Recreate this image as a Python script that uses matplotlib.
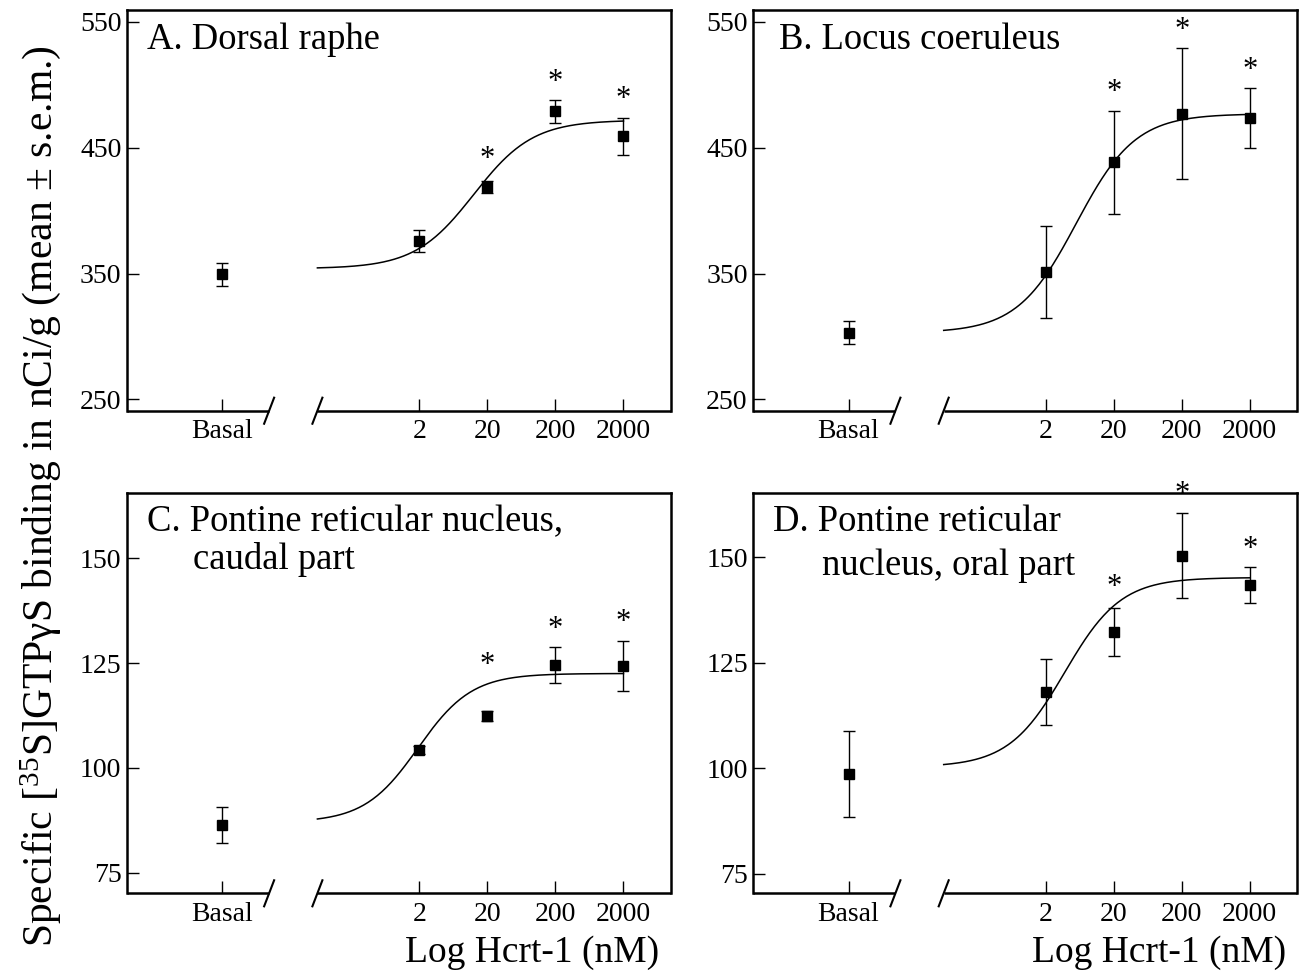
import numpy as np
import matplotlib
matplotlib.use("Agg")
import matplotlib.pyplot as plt

plt.rcParams["font.family"] = ["Liberation Serif", "DejaVu Serif"]
plt.rcParams["mathtext.fontset"] = "custom"
plt.rcParams["mathtext.rm"] = "Liberation Serif"
plt.rcParams["mathtext.it"] = "Liberation Serif:italic"

# concentrations of Hcrt-1 (nM)
conc = [2, 20, 200, 2000]
tick_labels = ["Basal", "2", "20", "200", "2000"]

titles = [["A. Dorsal raphe"],
          ["B. Locus coeruleus"],
          ["C. Pontine reticular nucleus,", "caudal part"],
          ["D. Pontine reticular", "nucleus, oral part"]]

basal_mean = [349.5, 303, 86.4, 98.6]
basal_sem = [9, 9, 4.2, 10.2]

a_mean = [376, 419, 479, 459]
a_sem = [9, 5, 9, 15]
b_mean = [351.5, 438.5, 477, 473.5]
b_sem = [36.6, 41, 52, 24]
c_mean = [104.2, 112.3, 124.5, 124.3]
c_sem = [1.0, 1.2, 4.3, 6.0]
d_mean = [118, 132.3, 150.4, 143.4]
d_sem = [7.8, 5.7, 10.1, 4.3]
star = [False, True, True, True]

# sigmoid fit: bottom, top, log EC50, hill slope
fits = [(354, 472, 1.1, 1.0),
        (303, 477, 0.75, 1.0),
        (87, 122.5, 0.28, 1.1),
        (100.3, 145.2, 0.58, 1.05)]

means = [a_mean, b_mean, c_mean, d_mean]
sems = [a_sem, b_sem, c_sem, d_sem]

ylims = [(241.1, 559.5), (241.1, 559.5), (70.1, 165.6), (70.4, 165.3)]
yticks = [[250, 350, 450, 550], [250, 350, 450, 550],
          [75, 100, 125, 150], [75, 100, 125, 150]]

basal_x = -2.6
brk1, brk2 = -1.91, -1.2

fig = plt.figure(figsize=(13, 9.73), dpi=100)
W, H = 1300, 973
boxes = [(127, 10, 544, 400.7), (753.3, 10, 544, 400.7),
         (127, 492.7, 544, 400.6), (753.3, 492.7, 544, 400.6)]

for i in range(4):
    l, t, w, h = boxes[i]
    ax = fig.add_axes([l / W, 1 - (t + h) / H, w / W, h / H])
    lx = np.log10(conc)

    bot, top, ec50, hill = fits[i]
    xs = np.linspace(brk2, lx[-1], 200)
    ax.plot(xs, bot + (top - bot) / (1 + 10 ** (hill * (ec50 - xs))), color="black", lw=1.1)

    ax.errorbar([basal_x], [basal_mean[i]], yerr=[basal_sem[i]], fmt="s", color="black",
                ms=7.5, capsize=4.3, elinewidth=1.0, capthick=1.0)
    ax.errorbar(lx, means[i], yerr=sems[i], fmt="s", color="black",
                ms=7.5, capsize=4.3, elinewidth=1.0, capthick=1.0)

    # asterisks above the error bars (or the curve, if higher)
    for k in range(len(conc)):
        if star[k]:
            fitv = bot + (top - bot) / (1 + 10 ** (hill * (ec50 - lx[k])))
            ytop = max(means[i][k] + sems[i][k], fitv)
            ax.annotate("*", xy=(lx[k], ytop), xytext=(0, 2.5), textcoords="offset points",
                        ha="center", va="bottom", fontsize=22)

    ax.set_xlim(-4, 4)
    ax.set_ylim(*ylims[i])
    ax.set_yticks(yticks[i])
    ax.set_xticks([basal_x] + list(lx))
    ax.set_xticklabels(tick_labels)
    ax.tick_params(direction="in", length=8.6, width=1.0, labelsize=20)
    ax.tick_params(axis="y", pad=4)
    ax.tick_params(axis="x", pad=6)
    for s in ["left", "top", "right"]:
        ax.spines[s].set_linewidth(1.8)
    ax.spines["bottom"].set_visible(False)

    # broken x axis
    tr = ax.get_xaxis_transform()
    ax.plot([-4, brk1], [0, 0], color="black", lw=1.8, transform=tr, clip_on=False,
            solid_capstyle="butt")
    ax.plot([brk2, 4], [0, 0], color="black", lw=1.8, transform=tr, clip_on=False,
            solid_capstyle="butt")
    for b in (brk1, brk2):
        ax.plot([b - 0.0735, b + 0.0735], [-0.0325, 0.0325], color="black", lw=1.5,
                transform=tr, clip_on=False)

    # panel titles
    if len(titles[i]) == 1:
        ax.text(0.037 if i == 0 else 0.048, 0.903, titles[i][0], transform=ax.transAxes,
                fontsize=26.4, va="baseline", ha="left")
    else:
        ax.text(0.037, 0.905, titles[i][0], transform=ax.transAxes,
                fontsize=26.4, va="baseline", ha="left")
        x2, y2 = (0.121, 0.81) if i == 2 else (0.127, 0.795)
        ax.text(x2, y2, titles[i][1], transform=ax.transAxes,
                fontsize=26.4, va="baseline", ha="left")

    if i >= 2:
        ax.text(0.745, -0.148, "Log Hcrt-1 (nM)", transform=ax.transAxes,
                fontsize=27, ha="center", va="center")

fig.text(0.031, 0.49, "Specific [$^{35}$S]GTPγS binding in nCi/g (mean ± s.e.m.)",
         rotation=90, ha="center", va="center", fontsize=30)

fig.savefig("out.png", dpi=100)
